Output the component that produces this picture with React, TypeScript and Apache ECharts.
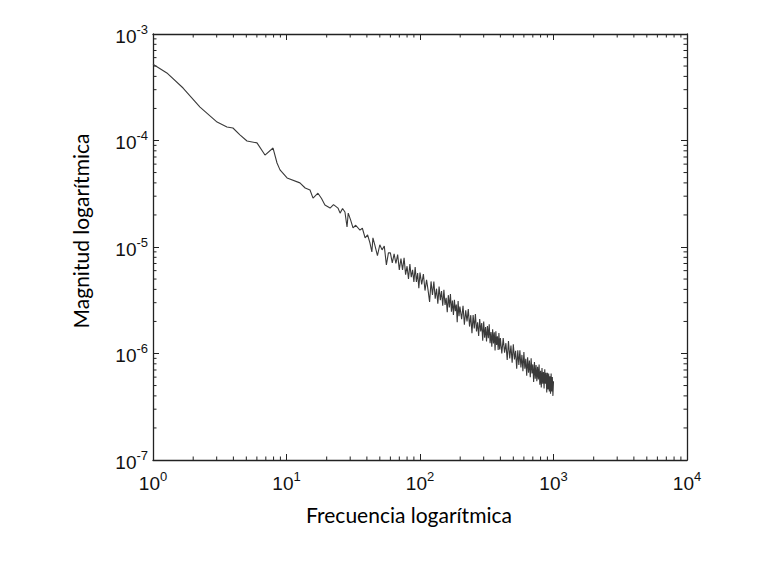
import React, { useEffect, useRef } from "react";
import * as echarts from "echarts";

// Low-frequency part
const freqLow = [1.0, 1.27, 1.68, 2.25, 3.02, 3.58, 3.97, 4.48, 5.06, 6.01, 6.9, 7.93, 8.49, 8.94, 10.1, 12.6, 13.8, 15.0, 15.8, 17.2, 18.3, 19.4, 21.2, 22.5, 24.3, 25.2, 26.3, 27.4, 28.4, 29.0, 30.2, 31.5, 33.0, 35.5, 37.0, 38.8, 40.5, 42.2, 43.6, 44.4];
const magLow = [5.2e-4, 4.31e-4, 3.11e-4, 2.06e-4, 1.49e-4, 1.34e-4, 1.31e-4, 1.13e-4, 9.9e-5, 9.5e-5, 7.3e-5, 8.5e-5, 6.15e-5, 5.3e-5, 4.45e-5, 4.0e-5, 3.58e-5, 3.43e-5, 2.88e-5, 3.2e-5, 2.85e-5, 2.48e-5, 2.32e-5, 2.5e-5, 2.32e-5, 2.08e-5, 2.3e-5, 2.13e-5, 1.54e-5, 2.08e-5, 1.8e-5, 1.51e-5, 1.6e-5, 1.44e-5, 1.5e-5, 1.22e-5, 1.3e-5, 1.09e-5, 9.0e-6, 1.22e-5];

// Mid-frequency part
const freqMid = [46, 48, 50, 52, 54, 56, 58, 60, 62, 64, 66, 68, 70, 72, 74, 76, 78, 80, 82, 84, 86, 88, 90, 92, 94, 96, 98, 100,
  103, 106, 109, 112, 115, 118, 121, 124, 127, 130, 133, 136, 139, 142, 145, 148, 151, 154, 157, 160, 163, 166, 169, 172, 175, 178, 181, 184, 187, 190, 193, 196, 199];
const magMid = [10.3e-6, 8.3e-6, 10.5e-6, 9.4e-6, 10.2e-6, 6.8e-6, 8.8e-6, 8.8e-6, 7.1e-6, 8.6e-6, 7.0e-6, 8.5e-6, 6.1e-6, 7.8e-6, 6.1e-6, 7.9e-6, 5.5e-6, 6.6e-6, 5.0e-6, 6.9e-6, 5.2e-6, 6.1e-6, 4.7e-6, 6.5e-6, 4.7e-6, 5.7e-6, 4.1e-6, 5.75e-6,
  4.46e-6, 5.57e-6, 3.90e-6, 4.91e-6, 3.91e-6, 3.05e-6, 4.75e-6, 3.55e-6, 4.73e-6, 3.27e-6, 4.06e-6, 2.94e-6, 4.25e-6, 3.17e-6, 3.86e-6, 2.81e-6, 3.97e-6, 2.86e-6, 3.34e-6, 2.44e-6, 3.53e-6, 2.71e-6, 3.61e-6, 2.47e-6, 3.15e-6, 2.30e-6, 3.20e-6, 2.50e-6, 2.88e-6, 1.97e-6, 3.11e-6, 2.24e-6, 2.76e-6];

// High-frequency part
const freqHigh = [205, 210, 215, 220, 225, 230, 235, 240, 245, 250, 255, 260, 265, 270, 275, 280, 285, 290, 295, 300, 305, 310, 315, 320, 325, 330, 335, 340, 345, 350, 355, 360, 365, 370, 375, 380, 385, 390, 395, 400,
  410, 420, 430, 440, 450, 460, 470, 480, 490, 500, 510, 520, 530, 540, 550, 560, 570, 580, 590, 600, 610, 620, 630, 640, 650, 660, 670, 680, 690, 700, 710, 720, 730, 740, 750, 760, 770, 780, 790, 800, 810, 820, 830, 840, 850, 860, 870, 880, 890, 900, 910, 920, 930, 940, 950, 960, 970, 980, 990, 1000];
const magHigh = [2.10e-6, 2.81e-6, 1.86e-6, 2.54e-6, 2.00e-6, 2.61e-6, 1.79e-6, 2.29e-6, 1.55e-6, 2.30e-6, 1.72e-6, 2.35e-6, 1.61e-6, 1.96e-6, 1.46e-6, 2.11e-6, 1.61e-6, 1.93e-6, 1.32e-6, 2.00e-6, 1.41e-6, 1.77e-6, 1.30e-6, 1.81e-6, 1.39e-6, 1.88e-6, 1.25e-6, 1.59e-6, 1.16e-6, 1.69e-6, 1.24e-6, 1.58e-6, 1.07e-6, 1.62e-6, 1.20e-6, 1.45e-6, 1.08e-6, 1.56e-6, 1.09e-6, 1.40e-6,
  1.00e-6, 1.40e-6, 1.02e-6, 1.25e-6, 0.87e-6, 1.31e-6, 0.90e-6, 1.19e-6, 0.82e-6, 1.22e-6, 0.88e-6, 1.06e-6, 0.72e-6, 1.07e-6, 0.78e-6, 1.07e-6, 0.74e-6, 0.97e-6, 0.68e-6, 1.03e-6, 0.72e-6, 0.89e-6, 0.62e-6, 0.92e-6, 0.66e-6, 0.86e-6, 0.60e-6, 0.90e-6, 0.65e-6, 0.79e-6, 0.54e-6, 0.83e-6, 0.58e-6, 0.78e-6, 0.55e-6, 0.75e-6, 0.57e-6, 0.79e-6, 0.51e-6, 0.69e-6, 0.48e-6, 0.73e-6, 0.52e-6, 0.67e-6, 0.47e-6, 0.71e-6, 0.52e-6, 0.66e-6, 0.43e-6, 0.66e-6, 0.46e-6, 0.65e-6, 0.44e-6, 0.61e-6, 0.42e-6, 0.65e-6, 0.44e-6, 0.60e-6, 0.40e-6, 0.55e-6];

const mantissas = [2, 3, 4, 5, 6, 7, 8, 9];
const xDecades = [1, 10, 100, 1000];
const yDecades = [1e-7, 1e-6, 1e-5, 1e-4];

const X_MIN = 1, X_MAX = 10000, Y_MIN = 1e-7, Y_MAX = 1e-3;

export default function App() {
  const ref = useRef<HTMLDivElement>(null);
  useEffect(() => {
    document.body.style.margin = "0";
    const chart = echarts.init(ref.current!, null, { renderer: "svg" });
    const freq = [...freqLow, ...freqMid, ...freqHigh];
    const mag = [...magLow, ...magMid, ...magHigh];
    const data = freq.map((f, i) => [f, mag[i]]);
    const xMinor: number[][] = [];
    xDecades.forEach((d) => mantissas.forEach((m) => xMinor.push([m * d, 1e-5])));
    const yMinor: number[][] = [];
    yDecades.forEach((d) => mantissas.forEach((m) => yMinor.push([10, m * d])));

    const labelFmt = (v: number) => "{b|10}{s|" + Math.round(Math.log10(v)) + "}";
    const rich = {
      b: { fontFamily: "Liberation Sans", fontSize: 19, color: "#111", lineHeight: 23, verticalAlign: "bottom" as const },
      s: { fontFamily: "Liberation Sans", fontSize: 13, color: "#111", lineHeight: 14, verticalAlign: "top" as const },
    };
    const axisLine = { show: true, lineStyle: { color: "#222", width: 1.3 } };
    const axisTick = { show: true, inside: true, length: 6, lineStyle: { color: "#222", width: 1 } };
    const MINOR = 3.5;
    const titleStyle = { fontFamily: "Lato", fontSize: 21, color: "#000" };

    chart.setOption({
      animation: false,
      backgroundColor: "#fff",
      grid: { left: 153, right: 93, top: 34, bottom: 127, containLabel: false },
      xAxis: [
        {
          type: "log", logBase: 10, min: X_MIN, max: X_MAX, splitNumber: 4, position: "bottom",
          axisLine, axisTick, splitLine: { show: false }, minorTick: { show: false },
          axisLabel: { formatter: labelFmt, rich, margin: 10 },
          name: "Frecuencia logarítmica", nameLocation: "middle", nameGap: 44,
          nameTextStyle: { ...titleStyle, padding: [0, 22, 0, 0] },
        },
        {
          type: "log", logBase: 10, min: X_MIN, max: X_MAX, splitNumber: 4, position: "top",
          axisLine, axisTick, splitLine: { show: false }, axisLabel: { show: false },
        },
      ],
      yAxis: [
        {
          type: "log", logBase: 10, min: Y_MIN, max: Y_MAX, splitNumber: 4, position: "left",
          axisLine, axisTick, splitLine: { show: false }, minorTick: { show: false },
          axisLabel: { formatter: labelFmt, rich, margin: 5 },
          name: "Magnitud logarítmica", nameLocation: "middle", nameGap: 62, nameRotate: 90,
          nameTextStyle: { ...titleStyle, padding: [0, 0, 0, 32] },
        },
        {
          type: "log", logBase: 10, min: Y_MIN, max: Y_MAX, splitNumber: 4, position: "right",
          axisLine, axisTick, splitLine: { show: false }, axisLabel: { show: false },
        },
      ],
      series: [
        {
          type: "line", data, showSymbol: false, symbol: "none", smooth: false,
          lineStyle: { color: "#3a3a3a", width: 1.1 },
        },
        {
          type: "custom", data: xMinor, silent: true,
          renderItem: (params: any, api: any) => {
            const cs = params.coordSys;
            const x = api.coord([api.value(0), api.value(1)])[0];
            const top = cs.y, bottom = cs.y + cs.height;
            return {
              type: "group",
              children: [
                { type: "line", shape: { x1: x, y1: bottom, x2: x, y2: bottom - MINOR }, style: { stroke: "#222", lineWidth: 1 } },
                { type: "line", shape: { x1: x, y1: top, x2: x, y2: top + MINOR }, style: { stroke: "#222", lineWidth: 1 } },
              ],
            };
          },
        },
        {
          type: "custom", data: yMinor, silent: true,
          renderItem: (params: any, api: any) => {
            const cs = params.coordSys;
            const y = api.coord([api.value(0), api.value(1)])[1];
            const left = cs.x, right = cs.x + cs.width;
            return {
              type: "group",
              children: [
                { type: "line", shape: { x1: left, y1: y, x2: left + MINOR, y2: y }, style: { stroke: "#222", lineWidth: 1 } },
                { type: "line", shape: { x1: right, y1: y, x2: right - MINOR, y2: y }, style: { stroke: "#222", lineWidth: 1 } },
              ],
            };
          },
        },
      ],
    });
    return () => chart.dispose();
  }, []);
  return <div ref={ref} style={{ width: 780, height: 587 }} />;
}
